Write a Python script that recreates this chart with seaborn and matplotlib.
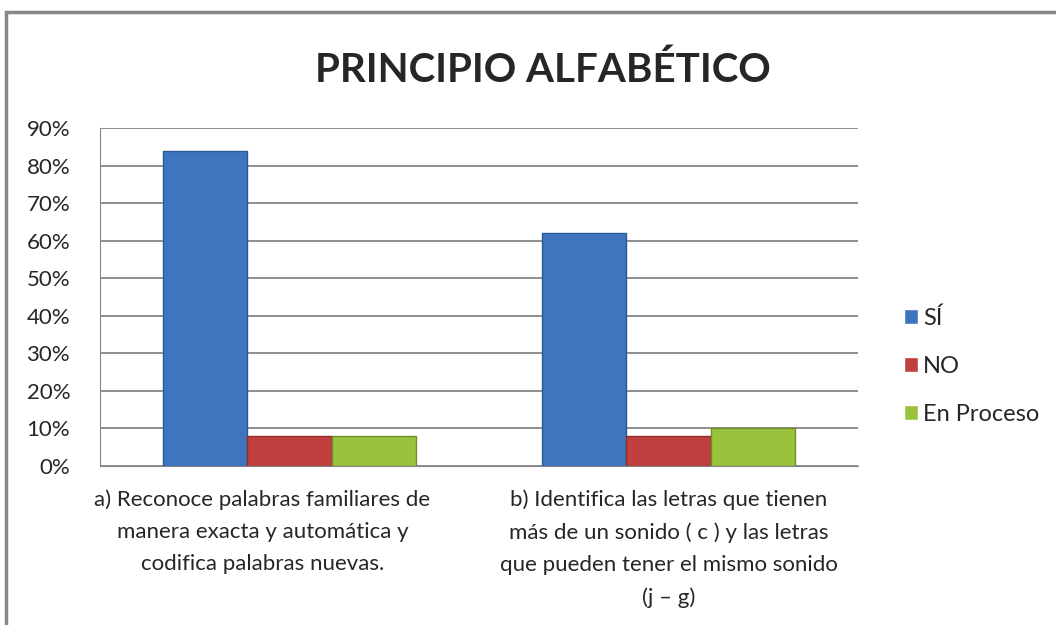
import pandas as pd
import seaborn as sns
import matplotlib.pyplot as plt
from matplotlib.patches import Rectangle
from matplotlib.ticker import PercentFormatter
from matplotlib.transforms import ScaledTranslation

# Datos del gráfico
categorias = [
    "a) Reconoce palabras familiares de\nmanera exacta y automática y\ncodifica palabras nuevas.",
    "b) Identifica las letras que tienen\nmás de un sonido ( c ) y las letras\nque pueden tener el mismo sonido\n(j – g)",
]
series = ["SÍ", "NO", "En Proceso"]
valores_si = [84, 62]
valores_no = [8, 8]
valores_proceso = [8, 10]

colores = {"SÍ": "#3D75BE", "NO": "#C0403F", "En Proceso": "#9BC23C"}
bordes = {"SÍ": "#2A5A94", "NO": "#8F2D2B", "En Proceso": "#6E8F2A"}

df = pd.DataFrame({
    "categoria": categorias * 3,
    "serie": ["SÍ"] * 2 + ["NO"] * 2 + ["En Proceso"] * 2,
    "valor": valores_si + valores_no + valores_proceso,
})

sns.set_style("white")
plt.rcParams["font.family"] = ["Lato", "DejaVu Sans"]

fig = plt.figure(figsize=(10.56, 6.25), dpi=100)
ax = fig.add_axes([100 / 1056, 1 - 466 / 625, 758 / 1056, 338 / 625])

sns.barplot(data=df, x="categoria", y="valor", hue="serie", hue_order=series,
            palette=colores, width=0.667, saturation=1, ax=ax)

for patch, serie in zip(ax.patches, [s for s in series for _ in categorias]):
    patch.set_edgecolor(bordes[serie])
    patch.set_linewidth(1)

ax.set_ylim(0, 90)
ax.set_yticks(range(0, 91, 10))
ax.yaxis.set_major_formatter(PercentFormatter(decimals=0))
ax.grid(axis="y", color="#868686", linewidth=1.3)
ax.set_axisbelow(True)
for lado in ["top", "right"]:
    ax.spines[lado].set_visible(False)
ax.spines["left"].set_color("#868686")
ax.spines["bottom"].set_color("#868686")
ax.tick_params(axis="y", labelsize=16, pad=18)
ax.tick_params(axis="x", labelsize=16, pad=13)
ax.set_xlabel("")
ax.set_ylabel("")
for i, etiqueta in enumerate(ax.get_xticklabels()):
    etiqueta.set_multialignment("center")
    etiqueta.set_linespacing(1.75)
    if i == 0:
        etiqueta.set_transform(etiqueta.get_transform()
                               + ScaledTranslation(-0.27, 0, fig.dpi_scale_trans))

ax.legend(handles=ax.get_legend_handles_labels()[0], labels=series,
          loc="center left", bbox_to_anchor=(1.033, 0.295), frameon=False,
          fontsize=17, handlelength=0.6, handleheight=0.6, handletextpad=0.2,
          labelspacing=1.15)

fig.text(0.514, 1 - 70 / 625, "PRINCIPIO ALFABÉTICO", ha="center", va="center",
         fontsize=29, fontweight="bold")

fig.patches.append(Rectangle((6 / 1056, -0.1), 1.2, 1 - 12 / 625 + 0.1,
                             transform=fig.transFigure, fill=False,
                             edgecolor="#878787", linewidth=2.5))

plt.savefig("out.png", dpi=100)
